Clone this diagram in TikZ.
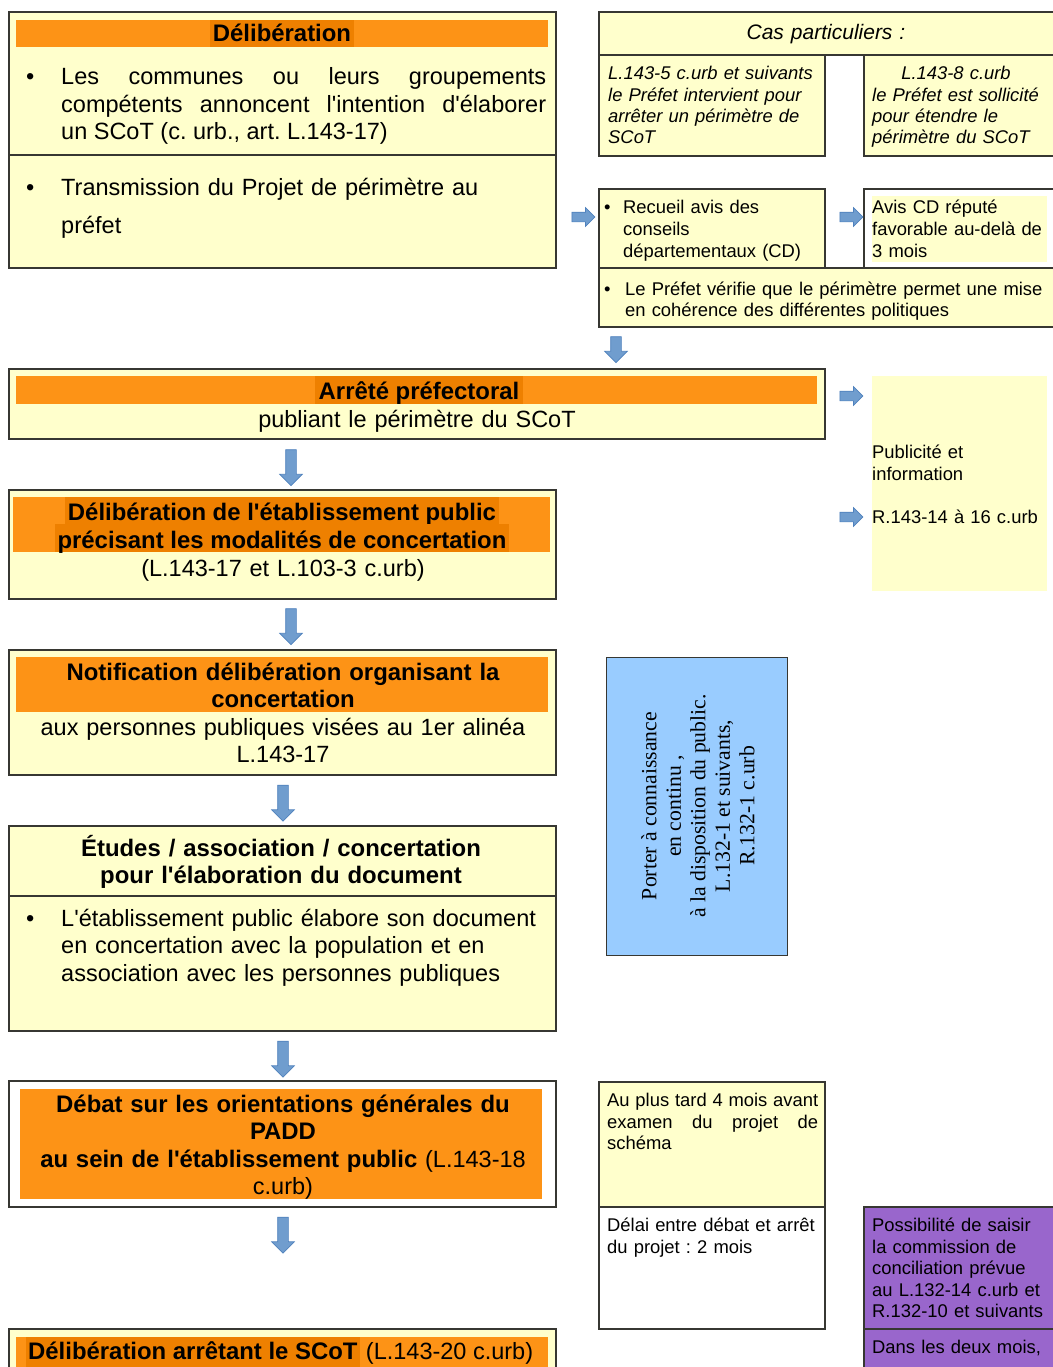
\documentclass[tikz,border=0pt]{standalone}
\usepackage{fontspec}
\setmainfont{Liberation Sans}[Ligatures=TeXOff]
\newfontfamily\serifont{Liberation Serif}[Ligatures=TeXOff]
\usetikzlibrary{shapes.arrows}
\definecolor{yel}{RGB}{255,255,204}
\definecolor{org}{RGB}{253,147,22}
\definecolor{orgd}{RGB}{238,128,0}
\definecolor{bord}{RGB}{55,55,50}
\definecolor{lblue}{RGB}{153,204,255}
\definecolor{purp}{RGB}{153,102,204}
\definecolor{afill}{RGB}{112,157,206}
\definecolor{aline}{RGB}{79,129,189}
\newcommand\fmain{\fontsize{23.5}{27.5}\selectfont}
\newcommand\fbold{\fontsize{23.9}{27.5}\selectfont\bfseries}
\newcommand\fside{\fontsize{18.4}{21.6}\selectfont}
\hyphenpenalty=10000
\exhyphenpenalty=10000
\frenchspacing
\begin{document}
\frenchspacing
\begin{tikzpicture}[x=1pt,y=-1pt,
 ybox/.style={draw=bord,line width=1.2pt,fill=yel,anchor=north west,inner sep=0pt,outer sep=0pt},
 wbox/.style={ybox,fill=white},
 plain/.style={draw=none,anchor=north west,inner sep=0pt,outer sep=0pt},
 obar/.style={plain,fill=org},
 hl/.style={fill=orgd,inner xsep=3pt,inner ysep=0pt,anchor=base,font=\fbold},
 tl/.style={inner sep=0pt,anchor=base west,align=left},
 tc/.style={inner sep=0pt,anchor=base,align=center},
 darr/.style={single arrow,draw=aline,fill=afill,line width=0.7pt,inner sep=5pt,single arrow head extend=6pt,minimum height=36pt,shape border rotate=270,anchor=center},
 rarr/.style={single arrow,draw=aline,fill=afill,line width=0.7pt,inner sep=4.5pt,single arrow head extend=4.5pt,minimum height=23pt,anchor=center},
]
\useasboundingbox (0,0) rectangle (1052,1367);
\fill[white] (0,0) rectangle (1052,1367);

% ---------- Box 1 : Deliberation
\node[ybox,minimum width=547pt,minimum height=143pt] (b1a) at (9,12) {};
\node[ybox,minimum width=547pt,minimum height=113pt] (b1b) at (9,155) {};
\node[obar,minimum width=532pt,minimum height=27pt] (bar1) at (16,20) {};
\node[hl,text height=22pt,text depth=5pt] (h1) at (282,42) {Délibération};
\node[tl,font=\fmain] (bu1) at (26,85) {•};
\node[tl,text width=485pt,align=justify,font=\fmain] (t1) at (61,85) {Les communes ou leurs groupements\linebreak compétents annoncent l'intention d'élaborer\linebreak un SCoT (c. urb., art. L.143-17)};
\node[tl,font=\fmain] (bu2) at (26,196) {•};
\node[tl,text width=485pt,font=\fontsize{23.5}{38}\selectfont] (t2) at (61,196) {Transmission du Projet de périmètre au\\préfet};

% ---------- Cas particuliers
\node[ybox,minimum width=460pt,minimum height=43pt] (cas) at (599,12) {};
\node[tc,text width=400pt,font=\fontsize{21}{25}\selectfont\itshape] (cast) at (826,40) {Cas particuliers :};
\node[ybox,minimum width=226pt,minimum height=101pt] (c1) at (599,55) {};
\node[tl,text width=215pt,font=\fontsize{18.4}{21.3}\selectfont\itshape] (c1t) at (608,80) {L.143-5 c.urb et suivants\\le Préfet intervient pour\\arrêter un périmètre de\\SCoT};
\node[ybox,minimum width=195pt,minimum height=101pt] (c2) at (864,55) {};
\node[tc,text width=180pt,font=\fontsize{18.4}{21.3}\selectfont\itshape] (c2ta) at (956,80) {L.143-8 c.urb};
\node[tl,text width=180pt,font=\fontsize{18.4}{21.3}\selectfont\itshape] (c2tb) at (872,101.3) {le Préfet est sollicité\\pour étendre le\\périmètre du SCoT};

% ---------- Recueil / Avis / Prefet
\node[ybox,minimum width=226pt,minimum height=79pt] (r1) at (599,189) {};
\node[tl,font=\fside] (r1b) at (604,214) {•};
\node[tl,text width=200pt,font=\fside] (r1t) at (623,214) {Recueil avis des\\conseils\\départementaux (CD)};
\node[wbox,minimum width=195pt,minimum height=79pt] (r2) at (864,189) {};
\node[plain,fill=yel,minimum width=175pt,minimum height=66pt] (r2h) at (872,196) {};
\node[tl,text width=175pt,font=\fside] (r2t) at (872,214) {Avis CD réputé\\favorable au-delà de\\3 mois};
\node[ybox,minimum width=460pt,minimum height=59pt] (r3) at (599,268) {};
\node[tl,font=\fside] (r3b) at (604,295) {•};
\node[tl,text width=420pt,font=\fside] (r3t) at (625,295) {Le Préfet vérifie que le périmètre permet une mise\\en cohérence des différentes politiques};

\node[rarr] (a1) at (581,217) {};
\node[rarr] (a2) at (849,217) {};
\node[darr,minimum height=26pt] (a3) at (616,347) {};

% ---------- Arrete prefectoral
\node[ybox,minimum width=816pt,minimum height=70pt] (ar) at (9,369) {};
\node[obar,minimum width=801pt,minimum height=28pt] (arb) at (16,376) {};
\node[hl,text height=23pt,text depth=5pt,inner xsep=4pt] (arh) at (419,399) {Arrêté préfectoral};
\node[tc,text width=700pt,font=\fmain] (art) at (417,427) {publiant le périmètre du SCoT};

% ---------- Publicite
\node[plain,fill=yel,minimum width=175pt,minimum height=215pt] (pub) at (872,376) {};
\node[tl,text width=170pt,font=\fside] (pubt1) at (872,458.5) {Publicité et\\information};
\node[tl,text width=170pt,font=\fside] (pubt2) at (872,523) {R.143-14 à 16 c.urb};
\node[rarr] (a4) at (849,396) {};
\node[rarr] (a5) at (849,517) {};

\node[darr] (a6) at (291,465) {};

% ---------- Deliberation EP
\node[ybox,minimum width=547pt,minimum height=109pt] (d3) at (9,490) {};
\node[obar,minimum width=537pt,minimum height=55pt] (d3b) at (13,497) {};
\node[hl,text height=23pt,text depth=4pt] (h3a) at (282,520) {Délibération de l'établissement public};
\node[hl,text height=24pt,text depth=4pt] (h3b) at (282,548) {précisant les modalités de concertation};
\node[tc,text width=540pt,font=\fmain] (d3t) at (283,576) {(L.143-17 et L.103-3 c.urb)};

\node[darr] (a7) at (291,624) {};

% ---------- Notification
\node[ybox,minimum width=547pt,minimum height=125pt] (n4) at (9,650) {};
\node[obar,minimum width=532pt,minimum height=55pt] (n4b) at (16,657) {};
\node[tc,text width=540pt,font=\fbold] (n4ta) at (283,680) {Notification délibération organisant la\\concertation};
\node[tc,text width=540pt,font=\fmain] (n4tb) at (283,735) {aux personnes publiques visées au 1er alinéa\\L.143-17};

\node[darr] (a8) at (283,800.5) {};

% ---------- Etudes
\node[ybox,minimum width=547pt,minimum height=70pt] (e5a) at (9,826) {};
\node[ybox,minimum width=547pt,minimum height=135pt] (e5b) at (9,896) {};
\node[tc,text width=540pt,font=\fbold] (e5t) at (281,856) {Études / association / concertation\\pour l'élaboration du document};
\node[tl,font=\fmain] (e5bu) at (26,926) {•};
\node[tl,text width=490pt,font=\fmain] (e5bt) at (61,926) {L'établissement public élabore son document\\en concertation avec la population et en\\association avec les personnes publiques};

% ---------- Porter a connaissance
\node[plain,fill=lblue,draw=bord,line width=1pt,minimum width=181pt,minimum height=298pt] (pc) at (606,657) {};
\node[inner sep=0pt,rotate=90,align=center,font=\serifont\fontsize{21.7}{24.5}\selectfont] (pct) at (698,806) {Porter à connaissance\\en continu ,\\à la disposition du public.\\L.132-1 et suivants,\\R.132-1 c.urb};

\node[darr] (a9) at (283,1056.5) {};

% ---------- Debat PADD
\node[wbox,minimum width=547pt,minimum height=126pt] (db) at (9,1081) {};
\node[obar,minimum width=522pt,minimum height=110pt] (dbo) at (20,1089) {};
\node[tc,text width=540pt,font=\fmain] (dbt) at (283,1112) {{\fbold Débat sur les orientations générales du}\\{\fbold PADD}\\{\fbold au sein de l'établissement public} (L.143-18\\c.urb)};

\node[darr] (a10) at (283,1232.5) {};

% ---------- Deliberation arretant
\node[ybox,minimum width=547pt,minimum height=60pt] (fin) at (9,1329) {};
\node[obar,minimum width=532pt,minimum height=50pt] (finb) at (16,1337) {};
\node[hl,anchor=base west,text height=22pt,text depth=10pt,inner xsep=2pt] (fh) at (26,1359) {Délibération arrêtant le SCoT};
\node[tl,font=\fmain,xshift=6pt] (ft) at (fh.base east) {(L.143-20 c.urb)};

% ---------- Au plus tard / Delai
\node[ybox,minimum width=226pt,minimum height=125pt] (ap) at (599,1082) {};
\node[tl,text width=211pt,align=justify,font=\fside] (apt) at (607,1106.5) {Au plus tard 4 mois avant\linebreak examen du projet de\linebreak schéma};
\node[wbox,minimum width=226pt,minimum height=122pt] (dl) at (599,1207) {};
\node[tl,text width=211pt,font=\fside] (dlt) at (607,1231.5) {Délai entre débat et arrêt\\du projet : 2 mois};

% ---------- Purple
\node[plain,fill=purp,draw=bord,line width=1.2pt,minimum width=195pt,minimum height=122pt] (pp1) at (864,1207) {};
\node[plain,fill=purp,draw=bord,line width=1.2pt,minimum width=195pt,minimum height=50pt] (pp2) at (864,1329) {};
\node[tl,text width=178pt,font=\fside] (pp1t) at (872,1231.5) {Possibilité de saisir\\la commission de\\conciliation prévue\\au L.132-14 c.urb et\\R.132-10 et suivants};
\node[tl,text width=178pt,font=\fside] (pp2t) at (872,1353.5) {Dans les deux mois,};
\end{tikzpicture}
\end{document}
